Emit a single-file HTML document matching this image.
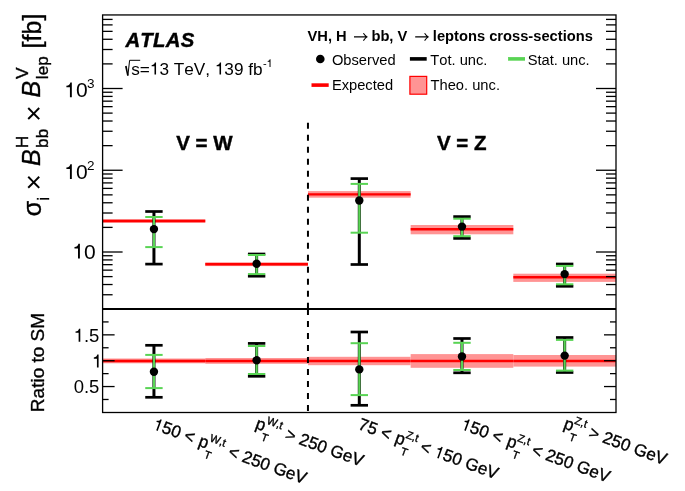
<!DOCTYPE html>
<html><head><meta charset="utf-8"><style>
html,body{margin:0;padding:0;background:#fff;width:685px;height:491px;overflow:hidden}
svg{display:block;will-change:transform}
g.xl text,text.rt{stroke:#000;stroke-width:0.35px}
text.nx{stroke:none}
text{font-family:"Liberation Sans",sans-serif;fill:#000;font-kerning:none;white-space:pre}
</style></head><body>
<svg width="685" height="491" viewBox="0 0 685 491">
<rect width="685" height="491" fill="#fff"/>
<rect x="102.60" y="219.20" width="102.68" height="3.60" fill="#ff9494"/>
<rect x="205.28" y="262.30" width="102.68" height="3.80" fill="#ff9494"/>
<rect x="307.96" y="191.10" width="102.68" height="6.60" fill="#ff9494"/>
<rect x="410.64" y="225.00" width="102.68" height="9.30" fill="#ff9494"/>
<rect x="513.32" y="273.70" width="102.68" height="8.20" fill="#ff9494"/>
<line x1="102.60" x2="205.28" y1="221.00" y2="221.00" stroke="#ff0000" stroke-width="2.4"/>
<line x1="205.28" x2="307.96" y1="264.20" y2="264.20" stroke="#ff0000" stroke-width="2.4"/>
<line x1="307.96" x2="410.64" y1="194.40" y2="194.40" stroke="#ff0000" stroke-width="2.4"/>
<line x1="410.64" x2="513.32" y1="229.30" y2="229.30" stroke="#ff0000" stroke-width="2.4"/>
<line x1="513.32" x2="616.00" y1="277.20" y2="277.20" stroke="#ff0000" stroke-width="2.4"/>
<rect x="102.60" y="358.50" width="102.68" height="4.80" fill="#ff9494"/>
<rect x="205.28" y="358.00" width="102.68" height="5.80" fill="#ff9494"/>
<rect x="307.96" y="356.80" width="102.68" height="8.40" fill="#ff9494"/>
<rect x="410.64" y="354.10" width="102.68" height="13.70" fill="#ff9494"/>
<rect x="513.32" y="355.00" width="102.68" height="11.60" fill="#ff9494"/>
<line x1="102.60" x2="205.28" y1="361.00" y2="361.00" stroke="#ff0000" stroke-width="2.4"/>
<line x1="205.28" x2="307.96" y1="361.00" y2="361.00" stroke="#ff0000" stroke-width="2.4"/>
<line x1="307.96" x2="410.64" y1="361.00" y2="361.00" stroke="#ff0000" stroke-width="2.4"/>
<line x1="410.64" x2="513.32" y1="361.00" y2="361.00" stroke="#ff0000" stroke-width="2.4"/>
<line x1="513.32" x2="616.00" y1="361.00" y2="361.00" stroke="#ff0000" stroke-width="2.4"/>
<line x1="307.96" x2="307.96" y1="122.8" y2="309.00" stroke="#000" stroke-width="2" stroke-dasharray="6 6"/>
<line x1="307.96" x2="307.96" y1="309.00" y2="412.50" stroke="#000" stroke-width="2" stroke-dasharray="6 6"/>
<line x1="153.94" x2="153.94" y1="211.50" y2="264.10" stroke="#000" stroke-width="3"/>
<line x1="145.24" x2="162.64" y1="211.50" y2="211.50" stroke="#000" stroke-width="2.7"/>
<line x1="145.24" x2="162.64" y1="264.10" y2="264.10" stroke="#000" stroke-width="2.7"/>
<line x1="153.94" x2="153.94" y1="217.00" y2="247.10" stroke="#59d454" stroke-width="2.2"/>
<line x1="145.24" x2="162.64" y1="217.00" y2="217.00" stroke="#59d454" stroke-width="2.0"/>
<line x1="145.24" x2="162.64" y1="247.10" y2="247.10" stroke="#59d454" stroke-width="2.0"/>
<circle cx="153.94" cy="229.10" r="4.2" fill="#000"/>
<line x1="256.62" x2="256.62" y1="254.00" y2="276.20" stroke="#000" stroke-width="3"/>
<line x1="247.92" x2="265.32" y1="254.00" y2="254.00" stroke="#000" stroke-width="2.7"/>
<line x1="247.92" x2="265.32" y1="276.20" y2="276.20" stroke="#000" stroke-width="2.7"/>
<line x1="256.62" x2="256.62" y1="255.00" y2="274.10" stroke="#59d454" stroke-width="2.2"/>
<line x1="247.92" x2="265.32" y1="255.00" y2="255.00" stroke="#59d454" stroke-width="2.0"/>
<line x1="247.92" x2="265.32" y1="274.10" y2="274.10" stroke="#59d454" stroke-width="2.0"/>
<circle cx="256.62" cy="263.70" r="4.2" fill="#000"/>
<line x1="359.30" x2="359.30" y1="178.60" y2="264.50" stroke="#000" stroke-width="3"/>
<line x1="350.60" x2="368.00" y1="178.60" y2="178.60" stroke="#000" stroke-width="2.7"/>
<line x1="350.60" x2="368.00" y1="264.50" y2="264.50" stroke="#000" stroke-width="2.7"/>
<line x1="359.30" x2="359.30" y1="183.90" y2="232.70" stroke="#59d454" stroke-width="2.2"/>
<line x1="350.60" x2="368.00" y1="183.90" y2="183.90" stroke="#59d454" stroke-width="2.0"/>
<line x1="350.60" x2="368.00" y1="232.70" y2="232.70" stroke="#59d454" stroke-width="2.0"/>
<circle cx="359.30" cy="200.50" r="4.2" fill="#000"/>
<line x1="461.98" x2="461.98" y1="216.60" y2="238.40" stroke="#000" stroke-width="3"/>
<line x1="453.28" x2="470.68" y1="216.60" y2="216.60" stroke="#000" stroke-width="2.7"/>
<line x1="453.28" x2="470.68" y1="238.40" y2="238.40" stroke="#000" stroke-width="2.7"/>
<line x1="461.98" x2="461.98" y1="218.70" y2="236.20" stroke="#59d454" stroke-width="2.2"/>
<line x1="453.28" x2="470.68" y1="218.70" y2="218.70" stroke="#59d454" stroke-width="2.0"/>
<line x1="453.28" x2="470.68" y1="236.20" y2="236.20" stroke="#59d454" stroke-width="2.0"/>
<circle cx="461.98" cy="226.60" r="4.2" fill="#000"/>
<line x1="564.66" x2="564.66" y1="264.00" y2="286.30" stroke="#000" stroke-width="3"/>
<line x1="555.96" x2="573.36" y1="264.00" y2="264.00" stroke="#000" stroke-width="2.7"/>
<line x1="555.96" x2="573.36" y1="286.30" y2="286.30" stroke="#000" stroke-width="2.7"/>
<line x1="564.66" x2="564.66" y1="265.90" y2="284.30" stroke="#59d454" stroke-width="2.2"/>
<line x1="555.96" x2="573.36" y1="265.90" y2="265.90" stroke="#59d454" stroke-width="2.0"/>
<line x1="555.96" x2="573.36" y1="284.30" y2="284.30" stroke="#59d454" stroke-width="2.0"/>
<circle cx="564.66" cy="274.10" r="4.2" fill="#000"/>
<line x1="153.94" x2="153.94" y1="345.30" y2="397.30" stroke="#000" stroke-width="3"/>
<line x1="145.24" x2="162.64" y1="345.30" y2="345.30" stroke="#000" stroke-width="2.7"/>
<line x1="145.24" x2="162.64" y1="397.30" y2="397.30" stroke="#000" stroke-width="2.7"/>
<line x1="153.94" x2="153.94" y1="354.90" y2="388.10" stroke="#59d454" stroke-width="2.2"/>
<line x1="145.24" x2="162.64" y1="354.90" y2="354.90" stroke="#59d454" stroke-width="2.0"/>
<line x1="145.24" x2="162.64" y1="388.10" y2="388.10" stroke="#59d454" stroke-width="2.0"/>
<circle cx="153.94" cy="371.80" r="4.2" fill="#000"/>
<line x1="256.62" x2="256.62" y1="343.40" y2="376.30" stroke="#000" stroke-width="3"/>
<line x1="247.92" x2="265.32" y1="343.40" y2="343.40" stroke="#000" stroke-width="2.7"/>
<line x1="247.92" x2="265.32" y1="376.30" y2="376.30" stroke="#000" stroke-width="2.7"/>
<line x1="256.62" x2="256.62" y1="346.00" y2="374.00" stroke="#59d454" stroke-width="2.2"/>
<line x1="247.92" x2="265.32" y1="346.00" y2="346.00" stroke="#59d454" stroke-width="2.0"/>
<line x1="247.92" x2="265.32" y1="374.00" y2="374.00" stroke="#59d454" stroke-width="2.0"/>
<circle cx="256.62" cy="360.30" r="4.2" fill="#000"/>
<line x1="359.30" x2="359.30" y1="332.00" y2="405.30" stroke="#000" stroke-width="3"/>
<line x1="350.60" x2="368.00" y1="332.00" y2="332.00" stroke="#000" stroke-width="2.7"/>
<line x1="350.60" x2="368.00" y1="405.30" y2="405.30" stroke="#000" stroke-width="2.7"/>
<line x1="359.30" x2="359.30" y1="343.20" y2="395.10" stroke="#59d454" stroke-width="2.2"/>
<line x1="350.60" x2="368.00" y1="343.20" y2="343.20" stroke="#59d454" stroke-width="2.0"/>
<line x1="350.60" x2="368.00" y1="395.10" y2="395.10" stroke="#59d454" stroke-width="2.0"/>
<circle cx="359.30" cy="369.40" r="4.2" fill="#000"/>
<line x1="461.98" x2="461.98" y1="338.50" y2="372.80" stroke="#000" stroke-width="3"/>
<line x1="453.28" x2="470.68" y1="338.50" y2="338.50" stroke="#000" stroke-width="2.7"/>
<line x1="453.28" x2="470.68" y1="372.80" y2="372.80" stroke="#000" stroke-width="2.7"/>
<line x1="461.98" x2="461.98" y1="342.80" y2="370.00" stroke="#59d454" stroke-width="2.2"/>
<line x1="453.28" x2="470.68" y1="342.80" y2="342.80" stroke="#59d454" stroke-width="2.0"/>
<line x1="453.28" x2="470.68" y1="370.00" y2="370.00" stroke="#59d454" stroke-width="2.0"/>
<circle cx="461.98" cy="356.50" r="4.2" fill="#000"/>
<line x1="564.66" x2="564.66" y1="337.50" y2="372.50" stroke="#000" stroke-width="3"/>
<line x1="555.96" x2="573.36" y1="337.50" y2="337.50" stroke="#000" stroke-width="2.7"/>
<line x1="555.96" x2="573.36" y1="372.50" y2="372.50" stroke="#000" stroke-width="2.7"/>
<line x1="564.66" x2="564.66" y1="339.90" y2="370.60" stroke="#59d454" stroke-width="2.2"/>
<line x1="555.96" x2="573.36" y1="339.90" y2="339.90" stroke="#59d454" stroke-width="2.0"/>
<line x1="555.96" x2="573.36" y1="370.60" y2="370.60" stroke="#59d454" stroke-width="2.0"/>
<circle cx="564.66" cy="355.60" r="4.2" fill="#000"/>
<rect x="102.60" y="14.95" width="513.40" height="397.55" fill="none" stroke="#000" stroke-width="1.3"/>
<line x1="102.60" x2="616.00" y1="309.00" y2="309.00" stroke="#000" stroke-width="1.8"/>
<line x1="102.60" x2="112.60" y1="294.75" y2="294.75" stroke="#000" stroke-width="1.3"/>
<line x1="606.00" x2="616.00" y1="294.75" y2="294.75" stroke="#000" stroke-width="1.3"/>
<line x1="102.60" x2="112.60" y1="284.53" y2="284.53" stroke="#000" stroke-width="1.3"/>
<line x1="606.00" x2="616.00" y1="284.53" y2="284.53" stroke="#000" stroke-width="1.3"/>
<line x1="102.60" x2="112.60" y1="276.61" y2="276.61" stroke="#000" stroke-width="1.3"/>
<line x1="606.00" x2="616.00" y1="276.61" y2="276.61" stroke="#000" stroke-width="1.3"/>
<line x1="102.60" x2="112.60" y1="270.14" y2="270.14" stroke="#000" stroke-width="1.3"/>
<line x1="606.00" x2="616.00" y1="270.14" y2="270.14" stroke="#000" stroke-width="1.3"/>
<line x1="102.60" x2="112.60" y1="264.66" y2="264.66" stroke="#000" stroke-width="1.3"/>
<line x1="606.00" x2="616.00" y1="264.66" y2="264.66" stroke="#000" stroke-width="1.3"/>
<line x1="102.60" x2="112.60" y1="259.92" y2="259.92" stroke="#000" stroke-width="1.3"/>
<line x1="606.00" x2="616.00" y1="259.92" y2="259.92" stroke="#000" stroke-width="1.3"/>
<line x1="102.60" x2="112.60" y1="255.74" y2="255.74" stroke="#000" stroke-width="1.3"/>
<line x1="606.00" x2="616.00" y1="255.74" y2="255.74" stroke="#000" stroke-width="1.3"/>
<line x1="102.60" x2="122.60" y1="252.00" y2="252.00" stroke="#000" stroke-width="1.3"/>
<line x1="596.00" x2="616.00" y1="252.00" y2="252.00" stroke="#000" stroke-width="1.3"/>
<line x1="102.60" x2="112.60" y1="227.39" y2="227.39" stroke="#000" stroke-width="1.3"/>
<line x1="606.00" x2="616.00" y1="227.39" y2="227.39" stroke="#000" stroke-width="1.3"/>
<line x1="102.60" x2="112.60" y1="213.00" y2="213.00" stroke="#000" stroke-width="1.3"/>
<line x1="606.00" x2="616.00" y1="213.00" y2="213.00" stroke="#000" stroke-width="1.3"/>
<line x1="102.60" x2="112.60" y1="202.78" y2="202.78" stroke="#000" stroke-width="1.3"/>
<line x1="606.00" x2="616.00" y1="202.78" y2="202.78" stroke="#000" stroke-width="1.3"/>
<line x1="102.60" x2="112.60" y1="194.86" y2="194.86" stroke="#000" stroke-width="1.3"/>
<line x1="606.00" x2="616.00" y1="194.86" y2="194.86" stroke="#000" stroke-width="1.3"/>
<line x1="102.60" x2="112.60" y1="188.39" y2="188.39" stroke="#000" stroke-width="1.3"/>
<line x1="606.00" x2="616.00" y1="188.39" y2="188.39" stroke="#000" stroke-width="1.3"/>
<line x1="102.60" x2="112.60" y1="182.91" y2="182.91" stroke="#000" stroke-width="1.3"/>
<line x1="606.00" x2="616.00" y1="182.91" y2="182.91" stroke="#000" stroke-width="1.3"/>
<line x1="102.60" x2="112.60" y1="178.17" y2="178.17" stroke="#000" stroke-width="1.3"/>
<line x1="606.00" x2="616.00" y1="178.17" y2="178.17" stroke="#000" stroke-width="1.3"/>
<line x1="102.60" x2="112.60" y1="173.99" y2="173.99" stroke="#000" stroke-width="1.3"/>
<line x1="606.00" x2="616.00" y1="173.99" y2="173.99" stroke="#000" stroke-width="1.3"/>
<line x1="102.60" x2="122.60" y1="170.25" y2="170.25" stroke="#000" stroke-width="1.3"/>
<line x1="596.00" x2="616.00" y1="170.25" y2="170.25" stroke="#000" stroke-width="1.3"/>
<line x1="102.60" x2="112.60" y1="145.64" y2="145.64" stroke="#000" stroke-width="1.3"/>
<line x1="606.00" x2="616.00" y1="145.64" y2="145.64" stroke="#000" stroke-width="1.3"/>
<line x1="102.60" x2="112.60" y1="131.25" y2="131.25" stroke="#000" stroke-width="1.3"/>
<line x1="606.00" x2="616.00" y1="131.25" y2="131.25" stroke="#000" stroke-width="1.3"/>
<line x1="102.60" x2="112.60" y1="121.03" y2="121.03" stroke="#000" stroke-width="1.3"/>
<line x1="606.00" x2="616.00" y1="121.03" y2="121.03" stroke="#000" stroke-width="1.3"/>
<line x1="102.60" x2="112.60" y1="113.11" y2="113.11" stroke="#000" stroke-width="1.3"/>
<line x1="606.00" x2="616.00" y1="113.11" y2="113.11" stroke="#000" stroke-width="1.3"/>
<line x1="102.60" x2="112.60" y1="106.64" y2="106.64" stroke="#000" stroke-width="1.3"/>
<line x1="606.00" x2="616.00" y1="106.64" y2="106.64" stroke="#000" stroke-width="1.3"/>
<line x1="102.60" x2="112.60" y1="101.16" y2="101.16" stroke="#000" stroke-width="1.3"/>
<line x1="606.00" x2="616.00" y1="101.16" y2="101.16" stroke="#000" stroke-width="1.3"/>
<line x1="102.60" x2="112.60" y1="96.42" y2="96.42" stroke="#000" stroke-width="1.3"/>
<line x1="606.00" x2="616.00" y1="96.42" y2="96.42" stroke="#000" stroke-width="1.3"/>
<line x1="102.60" x2="112.60" y1="92.24" y2="92.24" stroke="#000" stroke-width="1.3"/>
<line x1="606.00" x2="616.00" y1="92.24" y2="92.24" stroke="#000" stroke-width="1.3"/>
<line x1="102.60" x2="122.60" y1="88.50" y2="88.50" stroke="#000" stroke-width="1.3"/>
<line x1="596.00" x2="616.00" y1="88.50" y2="88.50" stroke="#000" stroke-width="1.3"/>
<line x1="102.60" x2="112.60" y1="63.89" y2="63.89" stroke="#000" stroke-width="1.3"/>
<line x1="606.00" x2="616.00" y1="63.89" y2="63.89" stroke="#000" stroke-width="1.3"/>
<line x1="102.60" x2="112.60" y1="49.50" y2="49.50" stroke="#000" stroke-width="1.3"/>
<line x1="606.00" x2="616.00" y1="49.50" y2="49.50" stroke="#000" stroke-width="1.3"/>
<line x1="102.60" x2="112.60" y1="39.28" y2="39.28" stroke="#000" stroke-width="1.3"/>
<line x1="606.00" x2="616.00" y1="39.28" y2="39.28" stroke="#000" stroke-width="1.3"/>
<line x1="102.60" x2="112.60" y1="31.36" y2="31.36" stroke="#000" stroke-width="1.3"/>
<line x1="606.00" x2="616.00" y1="31.36" y2="31.36" stroke="#000" stroke-width="1.3"/>
<line x1="102.60" x2="112.60" y1="24.89" y2="24.89" stroke="#000" stroke-width="1.3"/>
<line x1="606.00" x2="616.00" y1="24.89" y2="24.89" stroke="#000" stroke-width="1.3"/>
<line x1="102.60" x2="112.60" y1="19.41" y2="19.41" stroke="#000" stroke-width="1.3"/>
<line x1="606.00" x2="616.00" y1="19.41" y2="19.41" stroke="#000" stroke-width="1.3"/>
<line x1="102.60" x2="108.60" y1="399.48" y2="399.48" stroke="#000" stroke-width="1.3"/>
<line x1="610.00" x2="616.00" y1="399.48" y2="399.48" stroke="#000" stroke-width="1.3"/>
<line x1="102.60" x2="114.60" y1="386.55" y2="386.55" stroke="#000" stroke-width="1.3"/>
<line x1="604.00" x2="616.00" y1="386.55" y2="386.55" stroke="#000" stroke-width="1.3"/>
<line x1="102.60" x2="108.60" y1="373.62" y2="373.62" stroke="#000" stroke-width="1.3"/>
<line x1="610.00" x2="616.00" y1="373.62" y2="373.62" stroke="#000" stroke-width="1.3"/>
<line x1="102.60" x2="114.60" y1="360.70" y2="360.70" stroke="#000" stroke-width="1.3"/>
<line x1="604.00" x2="616.00" y1="360.70" y2="360.70" stroke="#000" stroke-width="1.3"/>
<line x1="102.60" x2="108.60" y1="347.77" y2="347.77" stroke="#000" stroke-width="1.3"/>
<line x1="610.00" x2="616.00" y1="347.77" y2="347.77" stroke="#000" stroke-width="1.3"/>
<line x1="102.60" x2="114.60" y1="334.85" y2="334.85" stroke="#000" stroke-width="1.3"/>
<line x1="604.00" x2="616.00" y1="334.85" y2="334.85" stroke="#000" stroke-width="1.3"/>
<line x1="102.60" x2="108.60" y1="321.92" y2="321.92" stroke="#000" stroke-width="1.3"/>
<line x1="610.00" x2="616.00" y1="321.92" y2="321.92" stroke="#000" stroke-width="1.3"/>
<text x="64.28" y="97.30" font-size="21"> 0</text>
<path transform="translate(64.28,97.30) scale(21)" d="M0.359,0V-0.703H0.288C0.272,-0.612 0.222,-0.562 0.101,-0.548V-0.480H0.269V0Z"/>
<text x="87.09" y="87.90" font-size="13.5">3</text>
<text x="64.28" y="179.00" font-size="21"> 0</text>
<path transform="translate(64.28,179.00) scale(21)" d="M0.359,0V-0.703H0.288C0.272,-0.612 0.222,-0.562 0.101,-0.548V-0.480H0.269V0Z"/>
<text x="86.92" y="169.60" font-size="13.5">2</text>
<text x="72.36" y="258.60" font-size="21"> 0</text>
<path transform="translate(72.36,258.60) scale(21)" d="M0.359,0V-0.703H0.288C0.272,-0.612 0.222,-0.562 0.101,-0.548V-0.480H0.269V0Z"/>
<text x="73.66" y="341.75" font-size="18.5"> .5</text>
<path transform="translate(73.66,341.75) scale(18.5)" d="M0.359,0V-0.703H0.288C0.272,-0.612 0.222,-0.562 0.101,-0.548V-0.480H0.269V0Z"/>
<text x="91.96" y="367.60" font-size="18.5"> </text>
<path transform="translate(91.96,367.60) scale(18.5)" d="M0.359,0V-0.703H0.288C0.272,-0.612 0.222,-0.562 0.101,-0.548V-0.480H0.269V0Z"/>
<text x="73.66" y="393.45" font-size="18.5">0.5</text>
<text x="125.42" y="46.50" font-size="20.3" font-weight="bold" font-style="italic" letter-spacing="0.3" stroke="#000" stroke-width="0.45">ATLAS</text>
<path d="M125.0,66.3 L126.7,65.7 L128.6,75.6 L127.1,75.8 Z" fill="#000"/>
<path d="M127.9,75.6 L129.6,60.3 L140.2,60.3" fill="none" stroke="#000" stroke-width="1.0"/>
<text x="131.22" y="74.60" font-size="17.2">s= 3 TeV,  39 fb</text>
<path transform="translate(149.87,74.60) scale(17.2)" d="M0.359,0V-0.703H0.288C0.272,-0.612 0.222,-0.562 0.101,-0.548V-0.480H0.269V0Z"/>
<path transform="translate(214.88,74.60) scale(17.2)" d="M0.359,0V-0.703H0.288C0.272,-0.612 0.222,-0.562 0.101,-0.548V-0.480H0.269V0Z"/>
<text x="262.91" y="67.00" font-size="11">- </text>
<path transform="translate(266.57,67.00) scale(11)" d="M0.359,0V-0.703H0.288C0.272,-0.612 0.222,-0.562 0.101,-0.548V-0.480H0.269V0Z"/>
<text x="176.26" y="150.20" font-size="20.5" font-weight="bold" stroke="#000" stroke-width="0.4">V = W</text>
<text x="436.96" y="150.20" font-size="20.5" font-weight="bold" stroke="#000" stroke-width="0.4">V = Z</text>
<text x="307.50" y="40.60" font-size="14.7" font-weight="bold">VH, H</text>
<text x="371.43" y="40.60" font-size="14.7" font-weight="bold">bb, V</text>
<text x="432.87" y="40.60" font-size="14.7" font-weight="bold">leptons cross-sections</text>
<path d="M354.0,36.9 H366.6 M363.4,33.2 Q365.0,35.6 367.0,36.9 Q365.0,38.2 363.4,40.6" fill="none" stroke="#000" stroke-width="1.1"/>
<path d="M415.2,36.9 H427.8 M424.6,33.2 Q426.2,35.6 428.2,36.9 Q426.2,38.2 424.6,40.6" fill="none" stroke="#000" stroke-width="1.1"/>
<circle cx="320.3" cy="59.0" r="4.3" fill="#000"/>
<text x="331.90" y="64.60" font-size="14.7">Observed</text>
<line x1="409.9" x2="426.7" y1="58.9" y2="58.9" stroke="#000" stroke-width="3.6"/>
<text x="430.27" y="64.60" font-size="14.7">Tot. unc.</text>
<line x1="508.1" x2="525.0" y1="58.9" y2="58.9" stroke="#59d454" stroke-width="3.6"/>
<text x="527.63" y="64.60" font-size="14.7">Stat. unc.</text>
<line x1="311.5" x2="328.7" y1="85.1" y2="85.1" stroke="#ff0000" stroke-width="3.6"/>
<text x="331.89" y="90.20" font-size="14.7">Expected</text>
<rect x="409.9" y="76.4" width="16.8" height="17.8" fill="#ff9494" stroke="#ff0000" stroke-width="1.2"/>
<text x="430.57" y="90.20" font-size="14.7">Theo. unc.</text>
<text class="rt" transform="rotate(-90)" x="-216.25" y="40.70" font-size="25">σ</text>
<text class="rt" transform="rotate(-90)" x="-200.75" y="49.40" font-size="17.2">i</text>
<text class="rt nx" transform="rotate(-90)" x="-190.54" y="43.00" font-size="28">×</text>
<text class="rt" transform="rotate(-90)" x="-166.07" y="40.30" font-size="25" font-style="italic">B</text>
<text class="rt" transform="rotate(-90)" x="-148.21" y="27.90" font-size="17.2">H</text>
<text class="rt" transform="rotate(-90)" x="-147.91" y="48.00" font-size="17.2">bb</text>
<text class="rt nx" transform="rotate(-90)" x="-121.74" y="43.00" font-size="28">×</text>
<text class="rt" transform="rotate(-90)" x="-97.57" y="40.30" font-size="25" font-style="italic">B</text>
<text class="rt" transform="rotate(-90)" x="-79.08" y="28.30" font-size="17.2">V</text>
<text class="rt" transform="rotate(-90)" x="-79.16" y="48.20" font-size="17.2">lep</text>
<text class="rt" transform="rotate(-90)" x="-48.38" y="40.50" font-size="25">[fb]</text>
<text class="rt" transform="rotate(-90)" x="-412.16" y="43.50" font-size="19">Ratio to SM</text>
<g class="xl" transform="translate(151.94,428.80) rotate(20.0)"><text x="0" y="0" font-size="17.0"> 50 &lt; </text><path transform="translate(0.00,0.00) scale(17.0)" d="M0.359,0V-0.703H0.288C0.272,-0.612 0.222,-0.562 0.101,-0.548V-0.480H0.269V0Z"/><text x="48.59" y="0" font-size="17.0">p</text><text x="57.94" y="9.4" font-size="11.0">T</text><text x="57.79" y="-8.0" font-size="11.0">W,t</text><text x="75.44" y="0" font-size="17.0"> &lt; 250 GeV</text></g>
<g class="xl" transform="translate(255.62,428.30) rotate(20.0)"><text x="-1.10" y="0" font-size="17.0">p</text><text x="8.25" y="9.4" font-size="11.0">T</text><text x="8.10" y="-8.0" font-size="11.0">W,t</text><text x="25.75" y="0" font-size="17.0"> &gt; 250 GeV</text></g>
<g class="xl" transform="translate(357.30,428.80) rotate(20.0)"><text x="0" y="0" font-size="17.0">75 &lt; </text><text x="39.14" y="0" font-size="17.0">p</text><text x="48.49" y="9.4" font-size="11.0">T</text><text x="48.03" y="-8.0" font-size="11.0">Z,t</text><text x="61.09" y="0" font-size="17.0"> &lt;  50 GeV</text><path transform="translate(80.47,0.00) scale(17.0)" d="M0.359,0V-0.703H0.288C0.272,-0.612 0.222,-0.562 0.101,-0.548V-0.480H0.269V0Z"/></g>
<g class="xl" transform="translate(459.98,428.80) rotate(20.0)"><text x="0" y="0" font-size="17.0"> 50 &lt; </text><path transform="translate(0.00,0.00) scale(17.0)" d="M0.359,0V-0.703H0.288C0.272,-0.612 0.222,-0.562 0.101,-0.548V-0.480H0.269V0Z"/><text x="48.59" y="0" font-size="17.0">p</text><text x="57.94" y="9.4" font-size="11.0">T</text><text x="57.49" y="-8.0" font-size="11.0">Z,t</text><text x="70.55" y="0" font-size="17.0"> &lt; 250 GeV</text></g>
<g class="xl" transform="translate(563.66,428.30) rotate(20.0)"><text x="-1.10" y="0" font-size="17.0">p</text><text x="8.25" y="9.4" font-size="11.0">T</text><text x="7.80" y="-8.0" font-size="11.0">Z,t</text><text x="20.86" y="0" font-size="17.0"> &gt; 250 GeV</text></g>
</svg></body></html>
